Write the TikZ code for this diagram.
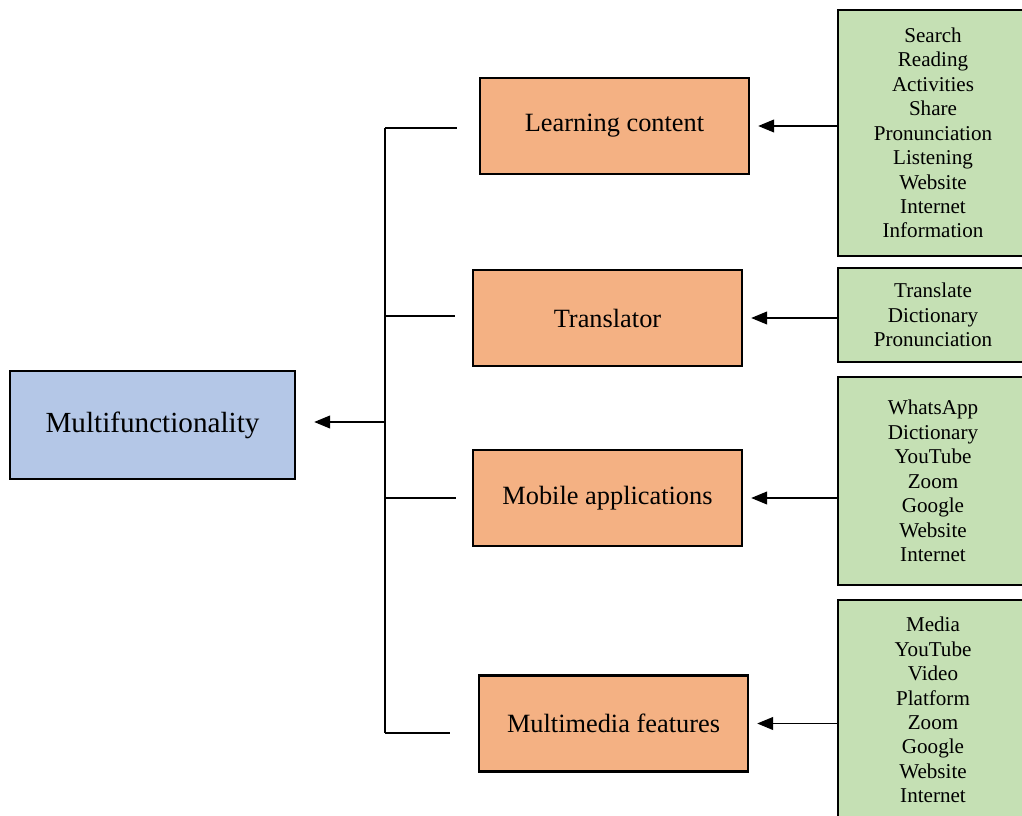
\documentclass[tikz,border=0pt]{standalone}
\usepackage{xcolor}
\usepackage{fontspec}
\setmainfont{Liberation Serif}
\usepackage{tikz}
\usetikzlibrary{positioning, arrows.meta}

\definecolor{mainblue}{HTML}{B4C7E7}
\definecolor{catorange}{HTML}{F4B183}
\definecolor{listgreen}{HTML}{C5E0B4}

\begin{document}
\begin{tikzpicture}[
    mainbox/.style={draw, line width=1.4pt, fill=mainblue, minimum width=5.7cm, minimum height=2.16cm, align=center, font=\fontsize{16.6}{19}\selectfont},
    catbox/.style={draw, line width=1.4pt, fill=catorange, minimum width=5.38cm, minimum height=1.92cm, align=center, font=\fontsize{15}{18}\selectfont},
    listbox/.style={draw, line width=1.4pt, fill=listgreen, minimum width=3.8cm, align=center, font=\fontsize{12}{13.9}\selectfont},
    link/.style={line width=0.6pt},
    feed/.style={line width=0.6pt, -{Triangle[length=0.32cm, width=0.26cm]}, shorten >=0.16cm}
]
\useasboundingbox (0, 0) rectangle (20.44, -16.32);

\node[mainbox] (multi) at (3.05, -8.5) {Multifunctionality};

\node[catbox] (learn) at (12.29, -2.52) {Learning content};
\node[catbox] (trans) at (12.15, -6.36) {Translator};
\node[catbox] (mobile) at (12.15, -9.96) {Mobile applications};
\node[catbox] (media) at (12.27, -14.47) {Multimedia features};

\node[listbox, minimum height=4.92cm] (learnlist) at (18.66, -2.66) {Search\\Reading\\Activities\\Share\\Pronunciation\\Listening\\Website\\Internet\\Information};
\node[listbox, minimum height=1.88cm] (translist) at (18.66, -6.3) {Translate\\Dictionary\\Pronunciation};
\node[listbox, minimum height=4.16cm] (mobilelist) at (18.66, -9.62) {WhatsApp\\Dictionary\\YouTube\\Zoom\\Google\\Website\\Internet};
\node[listbox, minimum height=4.4cm] (medialist) at (18.66, -14.2) {Media\\YouTube\\Video\\Platform\\Zoom\\Google\\Website\\Internet};

% bus on the left
\coordinate (bustop) at (7.7, -2.56);
\coordinate (busbot) at (7.7, -14.66);
\coordinate (busmid) at (7.7, -8.44);
\coordinate (learnend) at (9.14, -2.56);
\coordinate (transbus) at (7.7, -6.32);
\coordinate (transend) at (9.1, -6.32);
\coordinate (mobilebus) at (7.7, -9.96);
\coordinate (mobileend) at (9.12, -9.96);
\coordinate (mediaend) at (9.0, -14.66);

\draw[link] (bustop) -- (busbot);
\draw[link] (bustop) -- (learnend);
\draw[link] (transbus) -- (transend);
\draw[link] (mobilebus) -- (mobileend);
\draw[link] (busbot) -- (mediaend);
\draw[feed, shorten >=0.36cm] (busmid) -- (busmid -| multi.east);

% lists into categories
\draw[feed] (learn.east -| learnlist.west) -- (learn.east);
\draw[feed] (trans.east -| translist.west) -- (trans.east);
\draw[feed] (mobile.east -| mobilelist.west) -- (mobile.east);
\draw[feed] (media.east -| medialist.west) -- (media.east);
\end{tikzpicture}
\end{document}
